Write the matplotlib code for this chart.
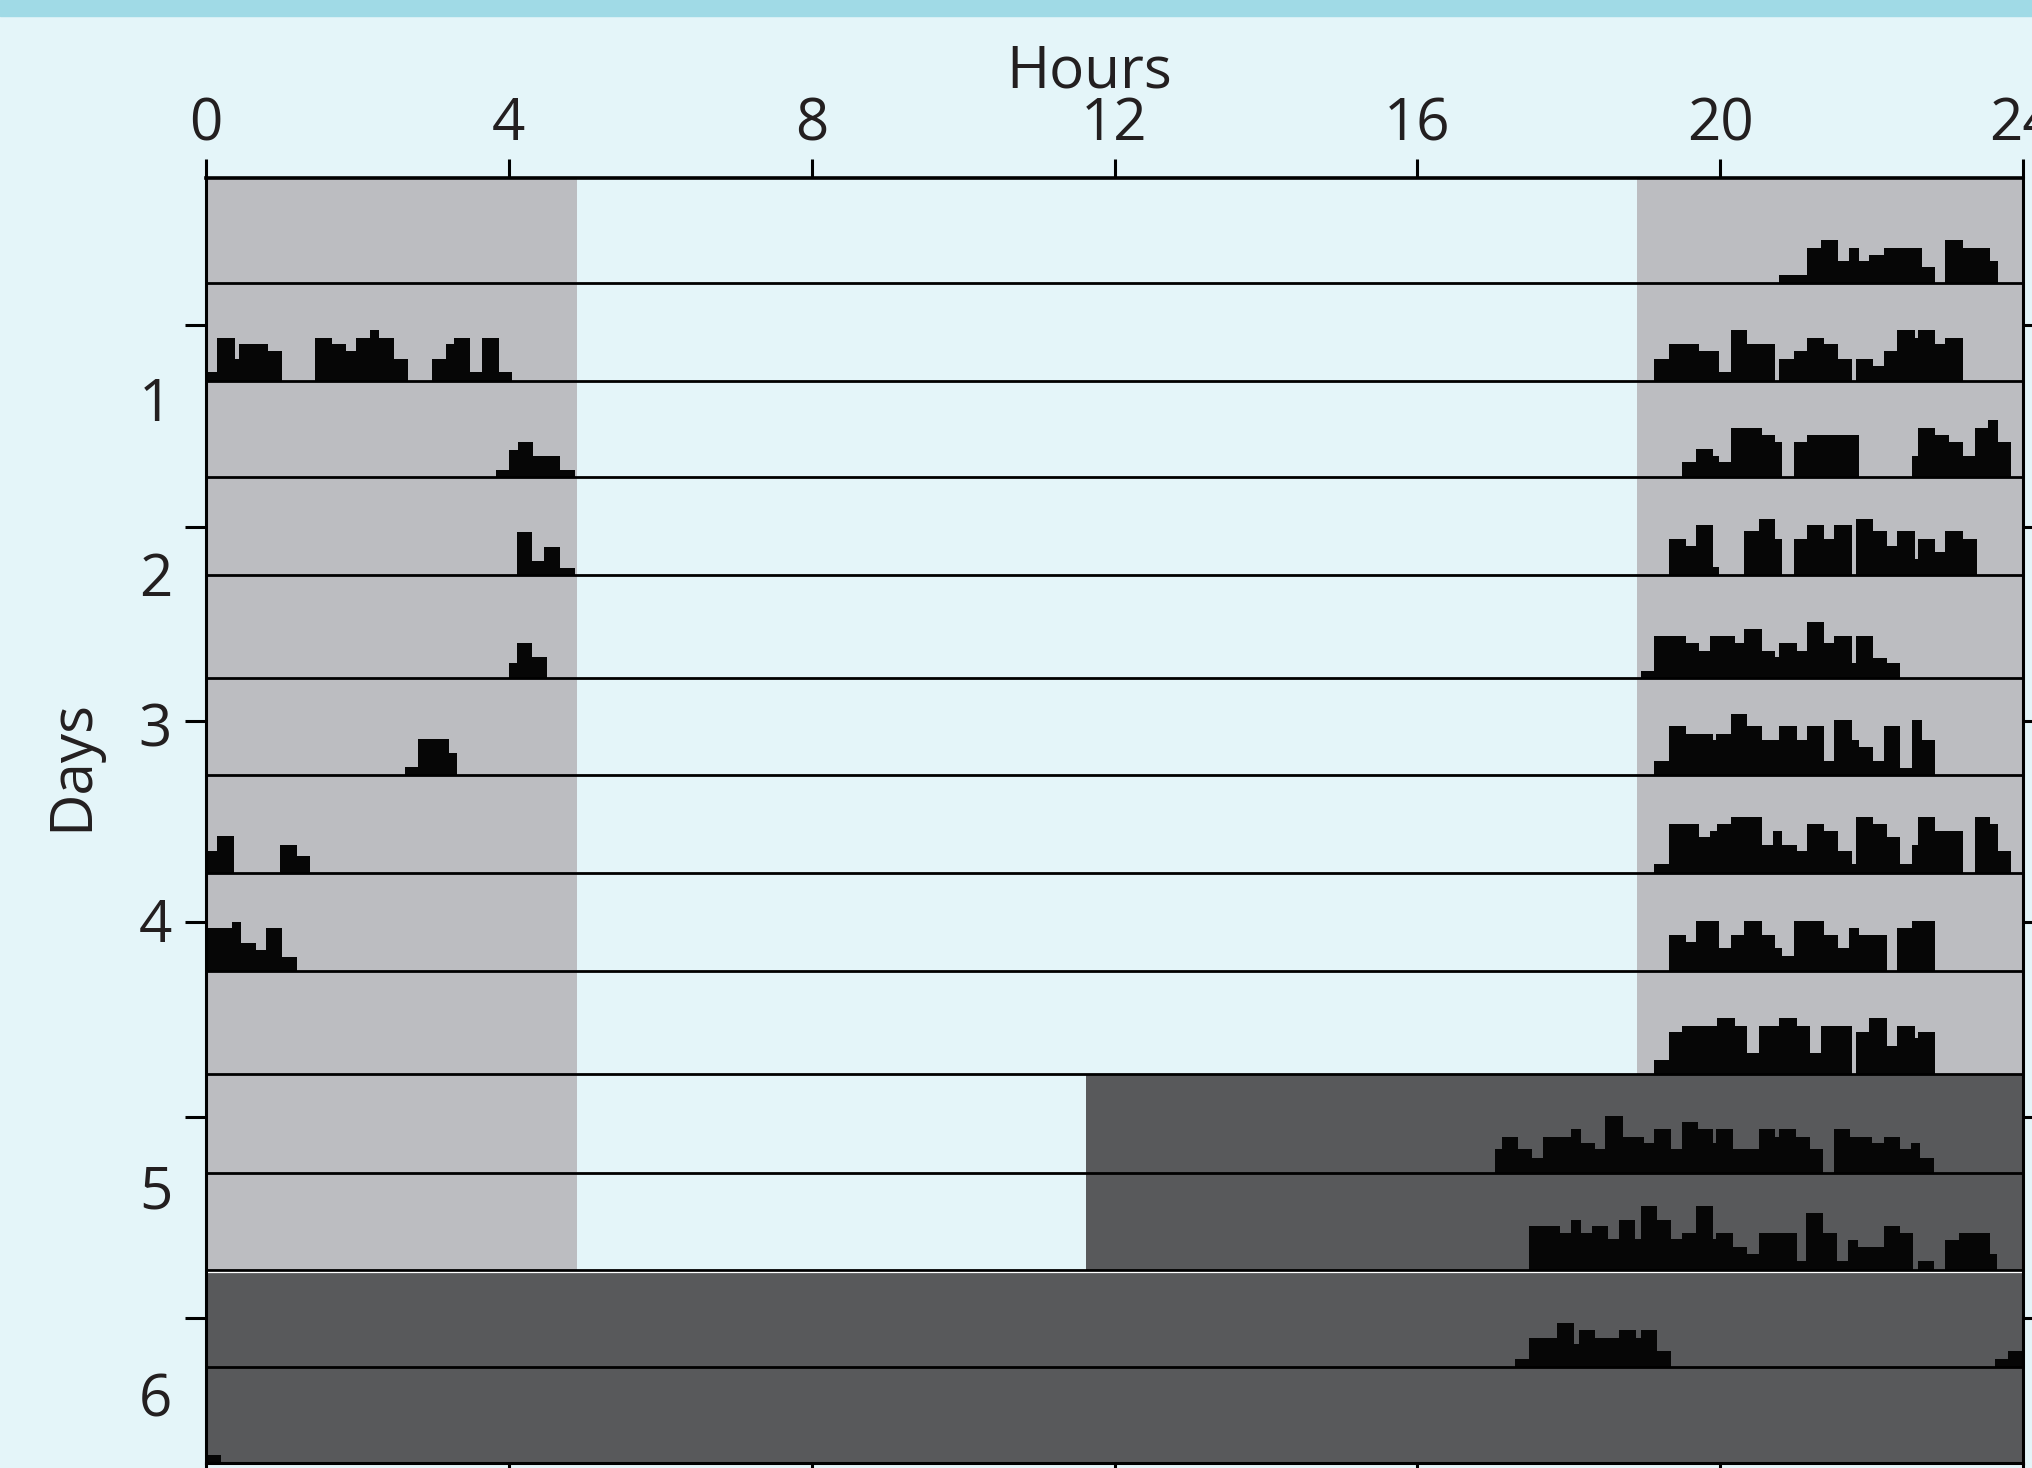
import matplotlib.pyplot as plt
from matplotlib.patches import Rectangle
import numpy as np

plt.rcParams['font.family'] = ['Open Sans', 'DejaVu Sans']

# colours
bg = '#e4f5f9'
band = '#a0dae6'
light_grey = '#bcbdc1'
dark_grey = '#58595b'
ink = '#231f20'

# light schedule (hours)
lights_on = 4.9
lights_off = 18.9
dd_start = 11.62   # constant darkness from here on row 9

hour_ticks = [0, 4, 8, 12, 16, 20, 24]
day_labels = ['1', '2', '3', '4', '5', '6']

# row boundaries (in row units, top = 0)
row_edges = [0, 1.065, 2.051, 3.028, 4.016, 5.061, 6.039, 7.034,
             8.019, 9.064, 10.063, 11.047, 12.025, 13.0]
day_ticks = [1.491, 3.529, 5.493, 7.526, 9.496, 11.536]
day_label_y = [2.46, 4.23, 5.75, 7.73, 10.43, 12.53]

# activity counts per row: bin edges (h) and bar heights (row units)
r0_edges = [20.78, 21.15, 21.33, 21.55, 21.70, 21.83, 21.97, 22.17, 22.66, 22.84, 22.97, 23.21, 23.57, 23.67]
r0_h = [0.08, 0.36, 0.44, 0.23, 0.36, 0.23, 0.29, 0.36, 0.16, 0, 0.44, 0.36, 0.23]

r1_edges = [0.0, 0.15, 0.38, 0.43, 0.82, 1.01, 1.44, 1.66, 1.85, 1.98, 2.16, 2.29, 2.48, 2.67, 2.99, 3.17,
            3.28, 3.49, 3.64, 3.87, 4.04,
            19.12, 19.32, 19.72, 19.99, 20.14, 20.36, 20.73, 20.78, 20.97, 21.15, 21.37, 21.55, 21.74,
            21.79, 22.02, 22.17, 22.34, 22.57, 22.61, 22.84, 22.97, 23.21]
r1_h = [0.09, 0.43, 0.22, 0.37, 0.30, 0, 0.43, 0.37, 0.30, 0.43, 0.51, 0.43, 0.22, 0, 0.22, 0.37,
        0.43, 0.09, 0.43, 0.09,
        0,
        0.22, 0.37, 0.30, 0.09, 0.51, 0.37, 0, 0.22, 0.30, 0.43, 0.37, 0.22, 0, 0.22, 0.15, 0.30,
        0.51, 0.43, 0.51, 0.37, 0.43]

r2_edges = [3.83, 4.00, 4.12, 4.32, 4.67, 4.87,
            19.50, 19.68, 19.91, 19.99, 20.14, 20.55, 20.73, 20.82, 20.97, 21.15, 21.83, 22.53, 22.61,
            22.84, 23.02, 23.21, 23.36, 23.54, 23.67, 23.84]
r2_h = [0.07, 0.28, 0.36, 0.22, 0.07,
        0,
        0.15, 0.29, 0.22, 0.15, 0.50, 0.43, 0.36, 0, 0.36, 0.43, 0, 0.22, 0.50, 0.43, 0.36, 0.22,
        0.50, 0.58, 0.36]

r3_edges = [4.11, 4.31, 4.47, 4.67, 4.87,
            19.32, 19.55, 19.68, 19.91, 19.99, 20.32, 20.51, 20.73, 20.82, 20.97, 21.15, 21.37, 21.51,
            21.74, 21.79, 22.02, 22.20, 22.33, 22.57, 22.61, 22.84, 22.97, 23.21, 23.39]
r3_h = [0.43, 0.14, 0.28, 0.07,
        0,
        0.36, 0.29, 0.51, 0.08, 0, 0.44, 0.57, 0.36, 0, 0.36, 0.51, 0.36, 0.51, 0, 0.57, 0.44, 0.29,
        0.44, 0.16, 0.36, 0.23, 0.44, 0.36]

r4_edges = [4.00, 4.11, 4.31, 4.50,
            18.95, 19.12, 19.55, 19.72, 19.87, 20.19, 20.32, 20.55, 20.73, 20.78, 21.01, 21.15, 21.37,
            21.51, 21.74, 21.79, 22.02, 22.20, 22.38]
r4_h = [0.15, 0.36, 0.22,
        0,
        0.07, 0.43, 0.36, 0.28, 0.43, 0.36, 0.50, 0.28, 0.22, 0.36, 0.28, 0.57, 0.36, 0.43, 0.15,
        0.43, 0.21, 0.15]

r5_edges = [2.63, 2.80, 3.21, 3.31,
            19.12, 19.32, 19.55, 19.91, 19.95, 20.14, 20.36, 20.55, 20.78, 21.01, 21.15, 21.37, 21.51,
            21.74, 21.83, 22.02, 22.17, 22.38, 22.53, 22.66, 22.84]
r5_h = [0.08, 0.36, 0.22,
        0,
        0.14, 0.49, 0.41, 0.35, 0.41, 0.62, 0.49, 0.35, 0.49, 0.35, 0.49, 0.14, 0.56, 0.35, 0.28,
        0.14, 0.49, 0.07, 0.56, 0.35]

r6_edges = [0.0, 0.15, 0.37, 0.98, 1.20, 1.38,
            19.12, 19.32, 19.72, 19.87, 19.96, 20.14, 20.55, 20.70, 20.82, 21.01, 21.15, 21.37, 21.55,
            21.74, 21.79, 22.02, 22.20, 22.38, 22.53, 22.61, 22.84, 23.21, 23.36, 23.57, 23.67, 23.84]
r6_h = [0.23, 0.38, 0, 0.29, 0.17,
        0,
        0.09, 0.50, 0.37, 0.43, 0.50, 0.57, 0.29, 0.43, 0.29, 0.23, 0.50, 0.43, 0.23, 0.09, 0.57,
        0.50, 0.37, 0.09, 0.29, 0.57, 0.43, 0, 0.57, 0.50, 0.23]

r7_edges = [0.0, 0.35, 0.46, 0.66, 0.79, 1.01, 1.20,
            19.32, 19.55, 19.68, 19.99, 20.14, 20.32, 20.55, 20.73, 20.82, 20.97, 21.37, 21.55, 21.70,
            21.83, 22.20, 22.33, 22.53, 22.84]
r7_h = [0.43, 0.49, 0.28, 0.21, 0.43, 0.14,
        0,
        0.36, 0.29, 0.50, 0.23, 0.36, 0.50, 0.36, 0.23, 0.15, 0.50, 0.36, 0.23, 0.43, 0.36, 0,
        0.43, 0.50]

r8_edges = [19.12, 19.32, 19.50, 19.96, 20.19, 20.36, 20.51, 20.78, 21.01, 21.19, 21.33, 21.74,
            21.79, 21.97, 22.20, 22.33, 22.57, 22.61, 22.84]
r8_h = [0.14, 0.42, 0.49, 0.57, 0.49, 0.21, 0.49, 0.57, 0.49, 0.21, 0.49, 0, 0.42, 0.57, 0.28,
        0.49, 0.36, 0.42]

r9_edges = [17.02, 17.12, 17.33, 17.52, 17.66, 18.03, 18.16, 18.35, 18.48, 18.71, 18.99, 19.12,
            19.35, 19.50, 19.71, 19.90, 19.95, 20.17, 20.51, 20.72, 20.78, 21.00, 21.18, 21.36,
            21.50, 21.72, 22.01, 22.16, 22.37, 22.52, 22.64, 22.83]
r9_h = [0.24, 0.36, 0.24, 0.15, 0.36, 0.44, 0.30, 0.24, 0.57, 0.36, 0.30, 0.44, 0.24, 0.51, 0.44,
        0.30, 0.44, 0.24, 0.44, 0.36, 0.44, 0.36, 0.24, 0, 0.44, 0.36, 0.30, 0.36, 0.24, 0.30, 0.15]

r10_edges = [17.48, 17.89, 18.03, 18.16, 18.31, 18.52, 18.67, 18.88, 18.96, 19.16, 19.35, 19.50,
             19.68, 19.90, 19.95, 20.17, 20.36, 20.51, 21.01, 21.14, 21.36, 21.54, 21.69, 21.82,
             22.16, 22.37, 22.55, 22.61, 22.83, 22.97, 23.16, 23.56, 23.66]
r10_h = [0.44, 0.37, 0.51, 0.37, 0.44, 0.31, 0.51, 0.31, 0.65, 0.51, 0.31, 0.37, 0.65, 0.31, 0.37,
         0.23, 0.16, 0.37, 0.09, 0.58, 0.37, 0.09, 0.30, 0.23, 0.44, 0.37, 0, 0.09, 0, 0.30, 0.37, 0.16]

r11_edges = [17.29, 17.48, 17.85, 18.07, 18.13, 18.35, 18.67, 18.89, 18.96, 19.16, 19.35,
             23.63, 23.80, 24.0]
r11_h = [0.08, 0.29, 0.44, 0.23, 0.37, 0.29, 0.37, 0.29, 0.37, 0.16, 0, 0.08, 0.16]

r12_edges = [0.0, 0.2]
r12_h = [0.08]

rows = [(r0_edges, r0_h), (r1_edges, r1_h), (r2_edges, r2_h), (r3_edges, r3_h),
        (r4_edges, r4_h), (r5_edges, r5_h), (r6_edges, r6_h), (r7_edges, r7_h),
        (r8_edges, r8_h), (r9_edges, r9_h), (r10_edges, r10_h), (r11_edges, r11_h),
        (r12_edges, r12_h)]

W, H = 2032, 1468
fig = plt.figure(figsize=(W / 100, H / 100), dpi=100, facecolor=bg)
fig.patches.append(Rectangle((0, 1 - 16 / H), 1, 16 / H, transform=fig.transFigure,
                             color=band, zorder=0))
ax = fig.add_axes([206 / W, 5 / H, (2023 - 206) / W, (1463 - 178) / H])
ax.set_facecolor(bg)
ax.set_xlim(0, 24)
ax.set_ylim(13, 0)

# light / dark shading
ax.broken_barh([(0, lights_on)], (0, row_edges[11]), facecolors=light_grey, zorder=0)
ax.broken_barh([(lights_off, 24 - lights_off)], (0, row_edges[9]), facecolors=light_grey, zorder=0)
ax.broken_barh([(dd_start, 24 - dd_start)], (row_edges[9], row_edges[11] - row_edges[9]),
               facecolors=dark_grey, zorder=0)
ax.broken_barh([(0, 24)], (row_edges[11], 13 - row_edges[11]), facecolors=dark_grey, zorder=0)

for i, (e, h) in enumerate(rows):
    base = row_edges[i + 1]
    ax.stairs(base - np.array(h), e, baseline=base, fill=True, color='#060606', lw=0, zorder=2)
    if i < 12:
        ax.axhline(base, color='black', lw=2.0, zorder=3)
ax.axhline(row_edges[11] + 0.022, color='white', lw=0.9, zorder=3)

for side in ['top', 'left', 'right', 'bottom']:
    ax.spines[side].set_linewidth(2.2)
    ax.spines[side].set_zorder(4)
ax.spines['top'].set_linewidth(2.6)

ax.set_xticks(hour_ticks)
ax.set_xticklabels([str(t) for t in hour_ticks])
ax.tick_params(axis='x', top=True, bottom=True, labeltop=True, labelbottom=False,
               direction='out', length=14, width=2.2, pad=3, labelsize=42, labelcolor=ink)
ax.set_yticks(day_ticks)
ax.set_yticklabels([])
ax.tick_params(axis='y', left=True, right=True, direction='out', length=15, width=2.2)

for lab, y in zip(day_labels, day_label_y):
    ax.text(-0.667, y, lab, ha='center', va='baseline', fontsize=42, color=ink, clip_on=False)

ax.text(11.66, -0.92, 'Hours', ha='center', va='baseline', fontsize=42, color=ink, clip_on=False)
ax.text(-1.77, 5.94, 'Days', ha='center', va='center', rotation=90, fontsize=42, color=ink,
        clip_on=False)

fig.savefig('out.png', dpi=100, facecolor=bg)
